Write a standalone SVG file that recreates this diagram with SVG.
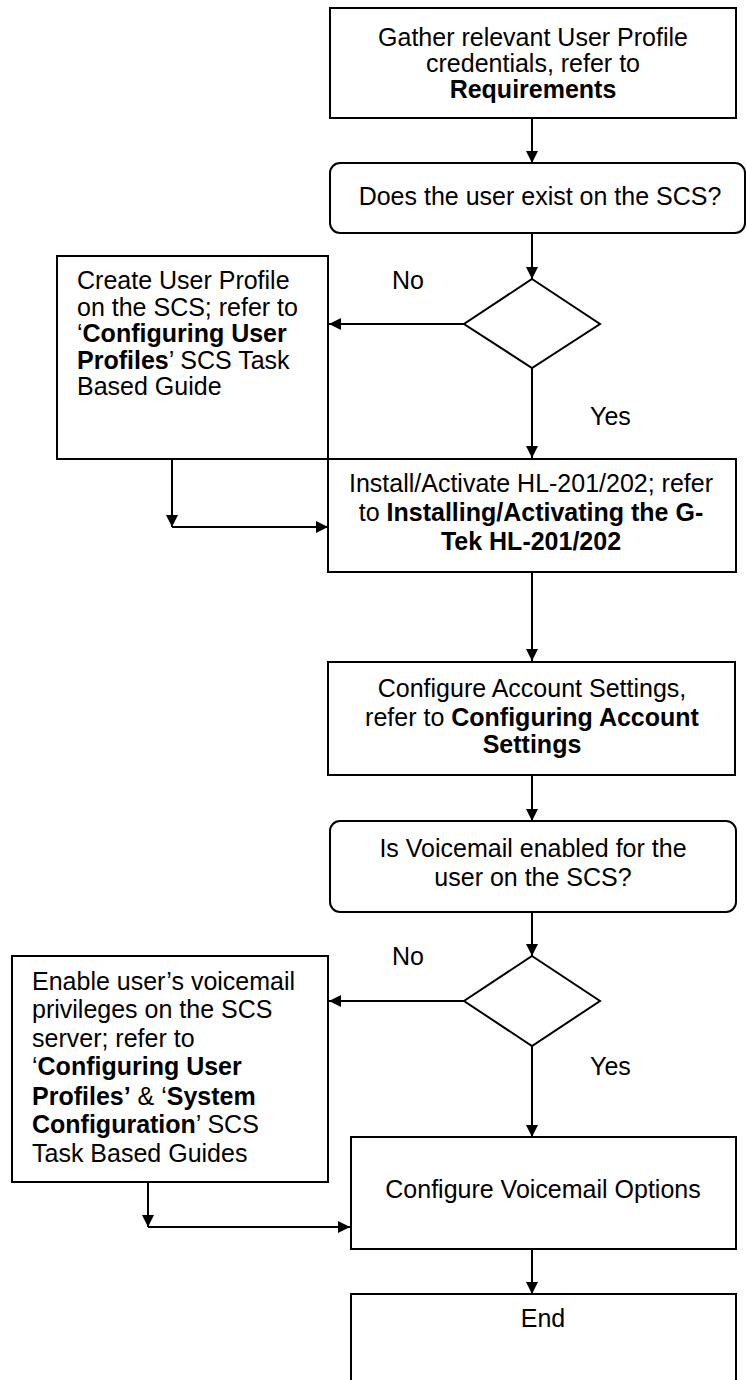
<svg xmlns="http://www.w3.org/2000/svg" width="747" height="1380" viewBox="0 0 747 1380">
<defs>
<marker id="ah" markerUnits="userSpaceOnUse" markerWidth="12" markerHeight="12" refX="12" refY="6" orient="auto">
<path d="M0,0 L12,6 L0,12 z" fill="#000"/>
</marker>
<style>
.box{fill:#fff;stroke:#000;stroke-width:2}
.t{font-family:"Liberation Sans",Arial,sans-serif;font-size:25px;fill:#000}
.c{text-anchor:middle}
.b{font-weight:bold}
.ln{fill:none;stroke:#000;stroke-width:2}
.ar{marker-end:url(#ah)}
</style>
</defs>
<rect x="0" y="0" width="747" height="1380" fill="#fff"/>
<g id="connectors">
<path class="ln ar" d="M532,118 V163"/>
<path class="ln ar" d="M532,233 V279"/>
<path class="ln ar" d="M464,324 H329"/>
<path class="ln ar" d="M532,368 V458"/>
<path class="ln ar" d="M172,459 V527"/>
<path class="ln ar" d="M172,527 H328"/>
<path class="ln ar" d="M532,572 V661"/>
<path class="ln ar" d="M532,775 V821"/>
<path class="ln ar" d="M532,912 V956"/>
<path class="ln ar" d="M464,1001 H329"/>
<path class="ln ar" d="M532,1046 V1137"/>
<path class="ln ar" d="M148,1182 V1227"/>
<path class="ln ar" d="M148,1227 H350"/>
<path class="ln ar" d="M532,1249 V1294"/>
</g>
<g id="gather">
<rect class="box" x="330" y="8" width="406" height="110"/>
<text class="t c" x="533" y="46">Gather relevant User Profile</text>
<text class="t c" x="533" y="72">credentials, refer to</text>
<text class="t c b" x="533" y="98">Requirements</text>
</g>
<g id="exists">
<rect class="box" x="330" y="163" width="415" height="70" rx="10" ry="10"/>
<text class="t c" x="540" y="205">Does the user exist on the SCS?</text>
</g>
<g id="decision1">
<polygon class="box" points="532,279 600,324 532,368 464,324"/>
<text class="t" x="392" y="289">No</text>
<text class="t" x="590" y="425">Yes</text>
</g>
<g id="create">
<rect class="box" x="57" y="256" width="271" height="203"/>
<text class="t" x="77" y="289">Create User Profile</text>
<text class="t" x="77" y="316">on the SCS; refer to</text>
<text class="t" x="77" y="342">‘<tspan class="b">Configuring User</tspan></text>
<text class="t" x="77" y="369"><tspan class="b">Profiles</tspan>’ SCS Task</text>
<text class="t" x="77" y="395">Based Guide</text>
</g>
<g id="install">
<rect class="box" x="328" y="459" width="408" height="113"/>
<text class="t c" x="531" y="492">Install/Activate HL-201/202; refer</text>
<text class="t c" x="531" y="521">to <tspan class="b">Installing/Activating the G-</tspan></text>
<text class="t c b" x="531" y="550">Tek HL-201/202</text>
</g>
<g id="account">
<rect class="box" x="328" y="662" width="407" height="113"/>
<text class="t c" x="532" y="697">Configure Account Settings,</text>
<text class="t c" x="532" y="726">refer to <tspan class="b">Configuring Account</tspan></text>
<text class="t c b" x="532" y="753">Settings</text>
</g>
<g id="voicemail-check">
<rect class="box" x="330" y="821" width="406" height="91" rx="10" ry="10"/>
<text class="t c" x="533" y="857">Is Voicemail enabled for the</text>
<text class="t c" x="533" y="886">user on the SCS?</text>
</g>
<g id="decision2">
<polygon class="box" points="532,956 600,1001 532,1046 464,1001"/>
<text class="t" x="392" y="965">No</text>
<text class="t" x="590" y="1075">Yes</text>
</g>
<g id="enable">
<rect class="box" x="12" y="956" width="316" height="226"/>
<text class="t" x="32" y="990">Enable user’s voicemail</text>
<text class="t" x="32" y="1018">privileges on the SCS</text>
<text class="t" x="32" y="1047">server; refer to</text>
<text class="t" x="32" y="1075">‘<tspan class="b">Configuring User</tspan></text>
<text class="t" x="32" y="1105"><tspan class="b">Profiles’</tspan> &amp; ‘<tspan class="b">System</tspan></text>
<text class="t" x="32" y="1133"><tspan class="b">Configuration</tspan>’ SCS</text>
<text class="t" x="32" y="1162">Task Based Guides</text>
</g>
<g id="options">
<rect class="box" x="351" y="1137" width="385" height="112"/>
<text class="t c" x="543" y="1198">Configure Voicemail Options</text>
</g>
<g id="end">
<rect class="box" x="351" y="1294" width="385" height="120"/>
<text class="t c" x="543" y="1327">End</text>
</g>
</svg>
